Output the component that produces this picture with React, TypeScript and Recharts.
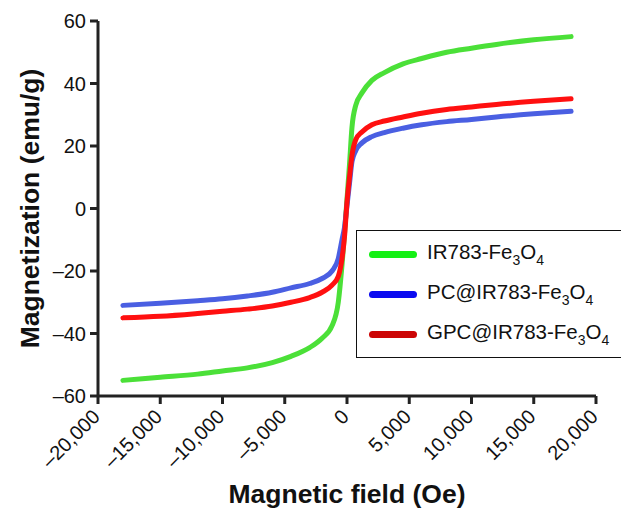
import React from 'react';
import { LineChart, Line, XAxis, YAxis } from 'recharts';

// Applied field (Oe)
const fields = [
  -18000, -15000, -12000, -10000, -8000, -6000, -4500, -3000, -2000, -1200, -700, -400, -200,
  0, 200, 400, 700, 1200, 2000, 3000, 4500, 6000, 8000, 10000, 12000, 15000, 18000,
];

// Magnetization (emu/g)
const ir783 = [
  -55, -54, -53, -52, -51, -49.3, -47.3, -44.5, -41.5, -37.5, -30, -18, -8,
  3, 14, 26, 33, 37, 41, 43.5, 46.3, 48, 50, 51.3, 52.5, 54, 55,
];
const pcIr783 = [
  -31, -30.3, -29.5, -28.9, -28, -26.8, -25.4, -24, -22.4, -20, -16, -10, -6,
  1, 8, 15, 18.5, 21, 23, 24.3, 25.7, 26.8, 27.8, 28.5, 29.3, 30.3, 31.1,
];
const gpcIr783 = [
  -35, -34.5, -33.6, -32.9, -32.2, -31.2, -30, -28.5, -26.8, -24.5, -21.7, -16, -9,
  2, 10, 17, 22, 24.5, 26.8, 28, 29.3, 30.5, 31.7, 32.5, 33.3, 34.3, 35.1,
];

const xTicks = [-20000, -15000, -10000, -5000, 0, 5000, 10000, 15000, 20000];
const yTicks = [-60, -40, -20, 0, 20, 40, 60];

const seriesInfo = [
  { key: 'ir', name: 'IR783-Fe', line: '#4be038', swatch: '#14f014' },
  { key: 'pc', name: 'PC@IR783-Fe', line: '#4a5fe2', swatch: '#0a0af0' },
  { key: 'gpc', name: 'GPC@IR783-Fe', line: '#ff1010', swatch: '#cc0505' },
];

const data = fields.map((f, i) => ({
  field: f,
  ir: ir783[i],
  pc: pcIr783[i],
  gpc: gpcIr783[i],
}));

const FONT = 'Arial, "Liberation Sans", Helvetica, sans-serif';
const AXIS = '#222';

// en dash for negatives, comma thousands
const fmt = (v: number) => {
  const s = Math.abs(v).toLocaleString('en-US');
  return v < 0 ? `\u2013${s}` : s;
};

const XTick = ({ x, y, payload }: any) => (
  <text
    x={x + 3}
    y={y + 12}
    transform={`rotate(-45, ${x + 3}, ${y + 12})`}
    textAnchor="end"
    fontSize={20}
    fontFamily={FONT}
    fill="#111"
  >
    {fmt(payload.value)}
  </text>
);

const YTick = ({ x, y, payload }: any) => (
  <text x={x - 2} y={y + 7} textAnchor="end" fontSize={20} fontFamily={FONT} fill="#111">
    {fmt(payload.value)}
  </text>
);

const Sub = ({ children }: any) => (
  <span style={{ fontSize: 14, verticalAlign: -6 }}>{children}</span>
);

const LegendBox = () => (
  <div
    style={{
      position: 'absolute',
      left: 356,
      top: 230,
      width: 280,
      height: 128,
      border: '1.5px solid #111',
      background: '#fff',
      boxSizing: 'border-box',
      paddingTop: 3,
      fontFamily: FONT,
      fontSize: 20.5,
      color: '#111',
    }}
  >
    {seriesInfo.map((s) => (
      <div key={s.key} style={{ display: 'flex', alignItems: 'center', height: 40 }}>
        <div
          style={{
            width: 48,
            height: 7,
            borderRadius: 4,
            background: s.swatch,
            marginLeft: 12,
            marginRight: 10,
          }}
        />
        <span>
          {s.name}
          <Sub>3</Sub>O<Sub>4</Sub>
        </span>
      </div>
    ))}
  </div>
);

export default function App() {
  return (
    <div
      style={{
        position: 'fixed',
        left: 0,
        top: 0,
        width: 621,
        height: 508,
        overflow: 'hidden',
        background: '#fff',
      }}
    >
      <LineChart
        width={621}
        height={508}
        data={data}
        margin={{ top: 21, right: 25, left: 0, bottom: 0 }}
      >
        <XAxis
          dataKey="field"
          type="number"
          domain={[-20000, 20000]}
          ticks={xTicks}
          interval={0}
          height={112}
          tick={<XTick />}
          tickSize={8}
          axisLine={{ stroke: AXIS, strokeWidth: 3 }}
          tickLine={{ stroke: AXIS, strokeWidth: 3 }}
          label={(props: any) => {
            const vb = props.viewBox;
            return (
              <text
                x={vb.x + vb.width / 2}
                y={vb.y + 107}
                textAnchor="middle"
                fontSize={26.5}
                fontWeight="bold"
                fontFamily={FONT}
                fill="#111"
              >
                Magnetic field (Oe)
              </text>
            );
          }}
        />
        <YAxis
          type="number"
          domain={[-60, 60]}
          ticks={yTicks}
          interval={0}
          width={98}
          tick={<YTick />}
          tickSize={8}
          axisLine={{ stroke: AXIS, strokeWidth: 3 }}
          tickLine={{ stroke: AXIS, strokeWidth: 3 }}
          label={(props: any) => {
            const vb = props.viewBox;
            const cx = 39;
            const cy = vb.y + vb.height / 2;
            return (
              <text
                x={cx}
                y={cy}
                transform={`rotate(-90, ${cx}, ${cy})`}
                textAnchor="middle"
                fontSize={26.5}
                fontWeight="bold"
                fontFamily={FONT}
                fill="#111"
              >
                Magnetization (emu/g)
              </text>
            );
          }}
        />
        {seriesInfo.map((s) => (
          <Line
            key={s.key}
            type="monotone"
            dataKey={s.key}
            name={s.name}
            stroke={s.line}
            strokeWidth={5}
            strokeLinecap="round"
            dot={false}
            isAnimationActive={false}
          />
        ))}
      </LineChart>
      <LegendBox />
    </div>
  );
}
